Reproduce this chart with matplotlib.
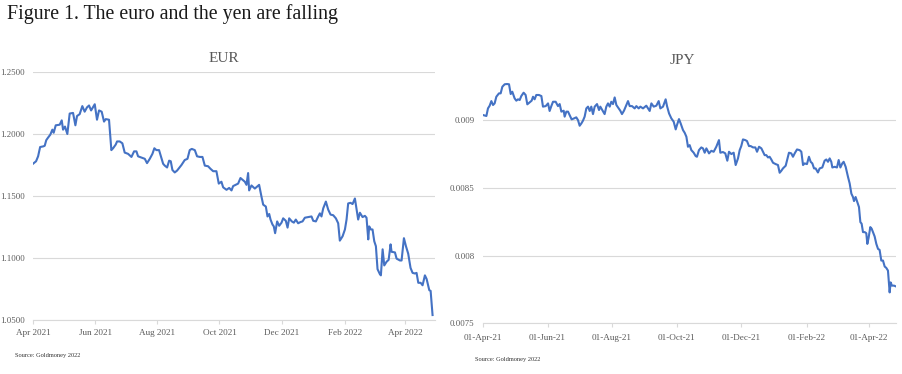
import matplotlib
matplotlib.use("Agg")
import matplotlib.pyplot as plt
import matplotlib.dates as mdates
import matplotlib.ticker as mticker
import pandas as pd

# ================= DATA =================
START = "2021-04-01"

# EUR/USD, days since 1 Apr 2021
eur_days = [
    0, 3, 5, 7, 10, 11.5, 13, 14.7, 17, 19,
    20.3, 22.3, 26.2, 28.2, 29.5, 31.4, 33.7, 36, 39.3, 41.6,
    43.2, 45.8, 48.4, 50.7, 53, 55, 57, 60.6, 62.8, 64.8,
    67.4, 69.7, 71.4, 74.6, 76.9, 78.6, 81.2, 82.5, 85.1, 87.7,
    90, 93.3, 96.6, 99.2, 101.5, 103.1, 106.4, 109.7, 111.9, 114.6,
    117.2, 119.1, 121.1, 123.7, 126, 127.7, 129.3, 131.6, 133.6, 135.2,
    136.8, 139.1, 141.4, 145.7, 148.9, 151.6, 153.8, 155.8, 158.8, 161,
    163.7, 166.3, 168.6, 171.8, 174.1, 176.8, 180, 182.3, 184.9, 186.6,
    189.9, 192.5, 194.8, 196.4, 201.3, 203.6, 207.9, 209.5, 211.1, 212.1,
    214.4, 217.7, 221.9, 224.2, 225.9, 228.5, 230.1, 231.8, 233.1, 235,
    236.3, 237.6, 239.6, 241.6, 243.9, 245.5, 248.1, 249.8, 251.4, 254,
    256, 257.9, 260.2, 262.5, 264.5, 266.8, 270, 273.3, 275, 277.6,
    279.9, 281.5, 283.1, 284.8, 287.4, 289.7, 292, 294.6, 297.2, 299.5,
    301.1, 303.8, 306.1, 307.7, 309.3, 311.6, 313.6, 315.9, 316.9, 319.1,
    320.8, 323.4, 325.7, 327.3, 329, 329.9, 331.6, 333.2, 334.9, 336.5,
    338.1, 340.4, 341.4, 343.1, 344.7, 347, 349, 350.9, 351.9, 355.2,
    356.8, 360.1, 361.7, 364, 366, 368.2, 370.5, 372.5, 374.8, 376.4,
    378.1, 380.4, 382.3, 384.6, 386.3, 388.9, 390.2, 392.1,
]
eur_values = [
    1.176, 1.178, 1.182, 1.1895, 1.190, 1.1905, 1.195, 1.197, 1.1995, 1.2035,
    1.201, 1.207, 1.2075, 1.211, 1.2035, 1.206, 1.200, 1.2165, 1.217, 1.207,
    1.2145, 1.216, 1.2225, 1.218, 1.2215, 1.223, 1.219, 1.224, 1.2115, 1.219,
    1.218, 1.210, 1.212, 1.2115, 1.187, 1.1885, 1.1915, 1.194, 1.194, 1.1925,
    1.185, 1.184, 1.1815, 1.186, 1.186, 1.182, 1.181, 1.180, 1.1765, 1.180,
    1.184, 1.1885, 1.187, 1.187, 1.1805, 1.176, 1.1745, 1.173, 1.1785, 1.178,
    1.171, 1.169, 1.1705, 1.175, 1.179, 1.180, 1.187, 1.188, 1.187, 1.182,
    1.1815, 1.1815, 1.1745, 1.174, 1.172, 1.170, 1.170, 1.160, 1.1615, 1.157,
    1.155, 1.1565, 1.1545, 1.158, 1.160, 1.1645, 1.1615, 1.159, 1.1685, 1.1545,
    1.1585, 1.156, 1.159, 1.1495, 1.143, 1.1415, 1.1335, 1.1355, 1.131, 1.127,
    1.1255, 1.120, 1.1295, 1.126, 1.1285, 1.132, 1.130, 1.1245, 1.132, 1.1295,
    1.1285, 1.131, 1.128, 1.129, 1.1295, 1.1325, 1.133, 1.1335, 1.130, 1.1295,
    1.1335, 1.136, 1.1335, 1.140, 1.1455, 1.139, 1.135, 1.1345, 1.132, 1.128,
    1.114, 1.1175, 1.123, 1.131, 1.144, 1.1445, 1.1435, 1.148, 1.1425, 1.131,
    1.1365, 1.133, 1.134, 1.1325, 1.115, 1.1255, 1.123, 1.123, 1.1135, 1.1095,
    1.091, 1.087, 1.086, 1.107, 1.094, 1.097, 1.0985, 1.111, 1.105, 1.1045,
    1.0995, 1.098, 1.098, 1.116, 1.1095, 1.1035, 1.092, 1.088, 1.0875, 1.088,
    1.080, 1.080, 1.078, 1.086, 1.083, 1.074, 1.0735, 1.054,
]

# JPY/USD, days since 1 Apr 2021
jpy_days = [
    0, 3.2, 4.7, 6.3, 7.9, 9.5, 11.0, 12.6, 15.1, 16.7,
    18.3, 20.5, 22.7, 24.6, 26.2, 27.7, 29.9, 31.5, 33.1, 34.7,
    36.2, 38.4, 40.3, 41.9, 44.1, 46.0, 47.3, 48.8, 50.4, 52.9,
    55.2, 56.7, 59.3, 61.5, 63.0, 64.6, 66.2, 68.7, 70.9, 72.5,
    74.1, 76.3, 77.2, 78.8, 80.4, 81.9, 83.8, 86.0, 88.2, 89.8,
    91.4, 93.0, 94.5, 96.1, 97.7, 99.3, 100.9, 102.4, 104.0, 105.6,
    107.8, 109.7, 110.9, 112.8, 115.0, 116.6, 118.2, 119.8, 121.3, 122.9,
    124.5, 126.1, 128.3, 129.8, 131.4, 133.3, 135.5, 137.1, 138.7, 140.9,
    143.4, 145.0, 147.2, 148.8, 151.3, 154.4, 157.6, 159.2, 161.4, 163.9,
    166.1, 167.7, 170.2, 172.7, 174.0, 175.9, 178.1, 180.3, 182.2, 183.4,
    185.3, 186.9, 189.1, 190.7, 192.3, 193.8, 195.4, 197.0, 199.2, 201.1,
    202.3, 204.2, 206.4, 208.0, 209.6, 211.2, 213.7, 215.9, 218.1, 220.6,
    223.1, 224.4, 226.9, 229.1, 231.0, 232.6, 234.8, 237.0, 238.9, 241.1,
    242.7, 244.2, 245.8, 248.0, 249.6, 251.5, 253.1, 255.3, 257.5, 259.1,
    261.0, 263.2, 264.7, 266.3, 267.9, 269.5, 271.0, 272.6, 274.2, 276.7,
    278.9, 280.5, 282.1, 283.6, 286.2, 287.7, 289.3, 291.5, 293.1, 294.7,
    296.9, 299.4, 301.0, 302.6, 304.1, 306.3, 308.2, 309.8, 311.4, 313.0,
    314.5, 316.7, 318.3, 320.8, 323.0, 324.6, 326.2, 327.8, 329.3, 330.3,
    332.5, 334.7, 336.3, 337.9, 339.7, 341.0, 342.9, 345.1, 346.7,
    348.3, 349.8, 350.8, 352.3, 353.9, 355.5, 356.8, 358.0, 359.3, 360.9,
    362.4, 363.4, 364.6, 366.2, 367.5, 368.7, 370.3, 371.9, 373.5, 375.0,
    376.6, 378.2, 379.8, 381.3, 382.9, 384.5, 385.4, 386.7, 388.6, 390.2,
]
jpy_values = [
    0.009037, 0.009030, 0.009086, 0.009106, 0.009140, 0.009111, 0.009123, 0.009172, 0.009197, 0.009197,
    0.009246, 0.009264, 0.009266, 0.009264, 0.009192, 0.009209, 0.009160, 0.009143, 0.009153, 0.009148,
    0.009177, 0.009202, 0.009185, 0.009116, 0.009131, 0.009143, 0.009172, 0.009153, 0.009185, 0.009185,
    0.009177, 0.009099, 0.009103, 0.009123, 0.009067, 0.009103, 0.009135, 0.009135, 0.009103, 0.009118,
    0.009062, 0.009069, 0.009025, 0.009062, 0.009062, 0.009037, 0.009005, 0.009012, 0.009020, 0.009000,
    0.008958, 0.008975, 0.008995, 0.009025, 0.009086, 0.009099, 0.009067, 0.009099, 0.009044, 0.009099,
    0.009118, 0.009074, 0.009099, 0.009074, 0.009044, 0.009099, 0.009123, 0.009099, 0.009135, 0.009118,
    0.009167, 0.009111, 0.009086, 0.009069, 0.009044, 0.009069, 0.009111, 0.009140, 0.009103, 0.009103,
    0.009086, 0.009103, 0.009086, 0.009099, 0.009086, 0.009106, 0.009067, 0.009123, 0.009099, 0.009106,
    0.009140, 0.009086, 0.009099, 0.009153, 0.009103, 0.009049, 0.009012, 0.008988, 0.008931, 0.008963,
    0.009007, 0.008975, 0.008926, 0.008906, 0.008877, 0.008803, 0.008815, 0.008778, 0.008759, 0.008734,
    0.008729, 0.008778, 0.008798, 0.008791, 0.008759, 0.008791, 0.008754, 0.008773, 0.008766, 0.008803,
    0.008852, 0.008759, 0.008764, 0.008754, 0.008700, 0.008766, 0.008749, 0.008759, 0.008668, 0.008717,
    0.008778, 0.008808, 0.008857, 0.008852, 0.008845, 0.008808, 0.008808, 0.008798, 0.008798, 0.008766,
    0.008803, 0.008791, 0.008766, 0.008741, 0.008741, 0.008724, 0.008729, 0.008709, 0.008685, 0.008675,
    0.008668, 0.008611, 0.008626, 0.008643, 0.008663, 0.008709, 0.008759, 0.008754, 0.008729, 0.008754,
    0.008783, 0.008778, 0.008766, 0.008668, 0.008680, 0.008675, 0.008729, 0.008692, 0.008680, 0.008643,
    0.008643, 0.008613, 0.008643, 0.008650, 0.008700, 0.008709, 0.008692, 0.008717, 0.008692, 0.008650,
    0.008655, 0.008650, 0.008705, 0.008650, 0.008680, 0.008692, 0.008655, 0.008581, 0.008532,
    0.008457, 0.008432, 0.008402, 0.008432, 0.008395, 0.008358, 0.008247, 0.008235, 0.008173, 0.008173,
    0.008165, 0.008086, 0.008131, 0.008210, 0.008198, 0.008173, 0.008141, 0.008086, 0.008049, 0.008042,
    0.007963, 0.007963, 0.007919, 0.007909, 0.007889, 0.007728, 0.007802, 0.007778, 0.007778, 0.007773,
]

eur_yticks = [1.05, 1.10, 1.15, 1.20, 1.25]
jpy_yticks = [0.0075, 0.008, 0.0085, 0.009]

TITLE = "Figure 1. The euro and the yen are falling"
SOURCE = "Source: Goldmoney 2022"

# ================= STYLE =================
plt.rcParams["font.family"] = ["Liberation Serif", "DejaVu Serif"]
LINE_COLOR = "#4472C4"
GRID_COLOR = "#d9d9d9"
TEXT_COLOR = "#595959"
W, H = 902, 374


def to_dates(days):
    return pd.Timestamp(START) + pd.to_timedelta(days, unit="D")


def style_axis(ax, yticks, xpad):
    for side in ["top", "right", "left"]:
        ax.spines[side].set_visible(False)
    ax.spines["bottom"].set_color(GRID_COLOR)
    ax.spines["bottom"].set_linewidth(0.8)
    ax.set_yticks(yticks)
    ax.yaxis.grid(True, color=GRID_COLOR, linewidth=0.8)
    ax.set_axisbelow(True)
    ax.tick_params(axis="y", length=0, labelsize=6.3, labelcolor=TEXT_COLOR, pad=6)
    ax.tick_params(axis="x", length=3, color=GRID_COLOR, width=0.8,
                   labelsize=6.6, labelcolor=TEXT_COLOR, pad=xpad)
    ax.xaxis.set_major_locator(mdates.MonthLocator(bymonth=[2, 4, 6, 8, 10, 12]))


fig = plt.figure(figsize=(W / 100, H / 100), dpi=100)

# left panel: EUR
ax1 = fig.add_axes([33 / W, 1 - 320 / H, 402 / W, 248 / H])
ax1.plot(to_dates(eur_days), eur_values, color=LINE_COLOR, linewidth=1.5)
style_axis(ax1, eur_yticks, 3.5)
ax1.set_ylim(1.05, 1.25)
ax1.set_xlim(to_dates([0])[0], to_dates([394.5])[0])
ax1.yaxis.set_major_formatter(mticker.FormatStrFormatter("%.4f"))
ax1.xaxis.set_major_formatter(mdates.DateFormatter("%b %Y"))

# right panel: JPY
ax2 = fig.add_axes([483 / W, 1 - 323.3 / H, 413 / W, 243.9 / H])
ax2.plot(to_dates(jpy_days), jpy_values, color=LINE_COLOR, linewidth=1.5)
style_axis(ax2, jpy_yticks, 4.5)
ax2.set_ylim(0.0075, 0.0093)
ax2.set_xlim(to_dates([0])[0], to_dates([390.5])[0])
ax2.yaxis.set_major_formatter(mticker.FuncFormatter(lambda v, p: f"{v:g}"))
ax2.xaxis.set_major_formatter(mdates.DateFormatter("%d-%b-%y"))

# titles and notes
fig.text(7 / W, 1 - 14 / H, TITLE, fontsize=14.3, color="#1a1a1a", va="center", ha="left")
fig.text(224 / W, 1 - 59 / H, "EUR", fontsize=11, color=TEXT_COLOR, va="center", ha="center")
fig.text(682 / W, 1 - 60 / H, "JPY", fontsize=11, color=TEXT_COLOR, va="center", ha="center")
fig.text(15 / W, 1 - 356 / H, SOURCE, fontsize=4.6, color="#333333", va="center", ha="left")
fig.text(475 / W, 1 - 360 / H, SOURCE, fontsize=4.6, color="#333333", va="center", ha="left")

fig.savefig("out.png", dpi=100)
